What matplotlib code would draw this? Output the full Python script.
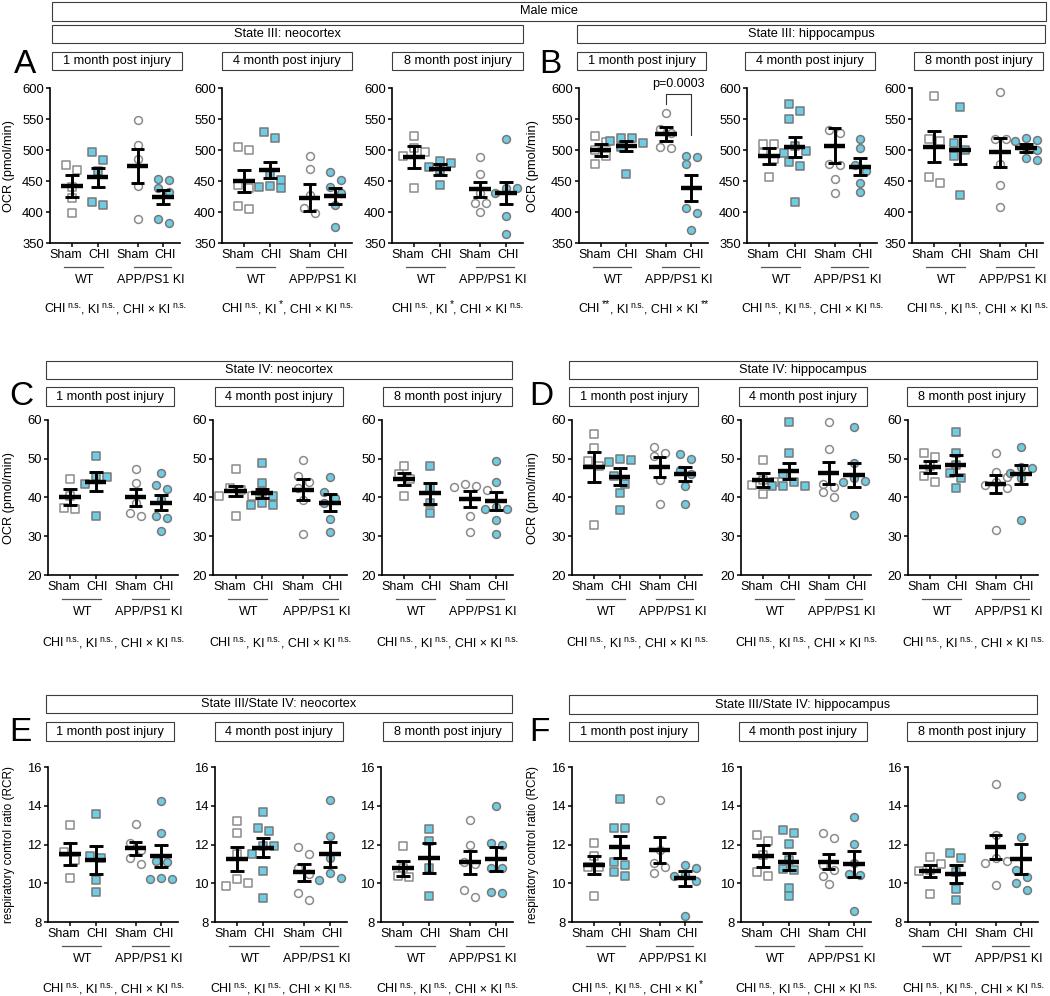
import numpy as np
import matplotlib
matplotlib.use('Agg')
import matplotlib.pyplot as plt
from matplotlib.patches import Rectangle
from matplotlib.transforms import offset_copy, ScaledTranslation

plt.rcParams['font.family'] = ['Liberation Sans', 'DejaVu Sans']

# ---- labels ----
groups = ['Sham', 'CHI', 'Sham', 'CHI']
genotypes = ['WT', 'APP/PS1 KI']
months = ['1 month post injury', '4 month post injury', '8 month post injury']
ocr_label = 'OCR (pmol/min)'
rcr_label = 'respiratory control ratio (RCR)'

# ---- data: points per group (WT Sham, WT CHI, KI Sham, KI CHI), mean, SEM ----
A1_pts = [[476, 467, 440, 422, 399], [496, 484, 466, 416, 412],
          [548, 508, 485, 442, 388], [454, 452, 438, 432, 389, 382]]
A1_mean = [442, 456, 474, 424]
A1_sem = [18, 15, 27, 11]
A2_pts = [[505, 500, 444, 438, 410, 405], [529, 520, 462, 452, 442, 440, 438],
          [491, 470, 428, 407, 398], [464, 452, 441, 430, 411, 376]]
A2_mean = [450, 468, 423, 426]
A2_sem = [18, 13, 22, 13]
A3_pts = [[523, 503, 496, 490, 438], [483, 479, 472, 468, 443],
          [489, 462, 430, 414, 414, 400], [518, 439, 438, 430, 394, 365]]
A3_mean = [489, 469, 437, 431]
A3_sem = [18, 9, 12, 18]

B1_pts = [[523, 513, 500, 490, 477], [520, 520, 514, 512, 505, 462],
          [560, 534, 528, 505, 504], [491, 488, 477, 406, 398, 371]]
B1_mean = [500, 506, 526, 438]
B1_sem = [9, 8, 11, 21]
B2_pts = [[509, 509, 495, 485, 457], [575, 563, 550, 506, 498, 495, 480, 474, 416],
          [532, 528, 477, 476, 453, 430], [518, 504, 476, 466, 447, 432]]
B2_mean = [491, 505, 507, 473]
B2_sem = [13, 16, 28, 14]
B3_pts = [[587, 517, 515, 457, 446], [570, 512, 500, 490, 428],
          [594, 518, 517, 478, 443, 408], [519, 516, 514, 505, 500, 487, 484]]
B3_mean = [505, 500, 496, 503]
B3_sem = [25, 23, 23, 6]

C1_pts = [[44.8, 40.5, 37.3, 37.0], [50.8, 45.6, 45.2, 43.5, 35.3],
          [47.3, 43.7, 38.5, 36.0, 35.1], [46.2, 43.2, 42.1, 39.6, 35.3, 34.7, 31.4]]
C1_mean = [40.1, 44.1, 40.0, 38.7]
C1_sem = [2.0, 2.5, 2.3, 1.9]
C2_pts = [[47.3, 42.5, 42.0, 40.4, 40.4, 35.3], [48.9, 43.7, 41.5, 40.5, 38.5, 38.1, 38.1],
          [49.7, 45.6, 44.1, 42.5, 39.4, 30.7], [45.4, 41.5, 39.8, 38.5, 34.4, 31.1]]
C2_mean = [41.7, 41.1, 42.0, 38.7]
C2_sem = [1.3, 1.2, 2.7, 2.1]
C3_pts = [[48.2, 46.0, 44.8, 40.3], [48.0, 42.5, 38.5, 36.0],
          [43.4, 43.0, 42.6, 42.0, 35.3, 31.1], [49.3, 43.9, 37.5, 37.1, 37.1, 34.1, 30.6]]
C3_mean = [44.8, 41.1, 39.6, 39.1]
C3_sem = [1.6, 2.7, 2.0, 2.2]

D1_pts = [[56.3, 52.7, 49.5, 48.0, 33.0], [50.0, 49.7, 49.1, 45.5, 43.5, 41.1, 36.7],
          [53.1, 51.4, 50.6, 44.5, 38.3], [51.3, 49.9, 47.0, 46.0, 43.0, 38.4]]
D1_mean = [47.9, 45.4, 47.8, 46.0]
D1_sem = [3.9, 2.2, 2.6, 1.8]
D2_pts = [[49.7, 44.5, 43.9, 43.3, 41.0], [59.4, 51.6, 46.0, 44.0, 43.0, 43.0, 42.9],
          [59.4, 52.5, 43.5, 42.7, 41.3, 40.1], [58.3, 48.8, 45.0, 44.2, 44.0, 35.6]]
D2_mean = [44.5, 46.9, 46.3, 45.7]
D2_sem = [1.7, 2.0, 2.8, 3.1]
D3_pts = [[51.6, 50.4, 48.0, 45.5, 43.9], [56.8, 51.4, 48.5, 46.3, 45.0, 42.4],
          [51.4, 46.5, 45.4, 44.0, 43.3, 42.5, 31.7], [53.0, 47.8, 47.6, 46.3, 45.0, 34.3]]
D3_mean = [47.9, 48.4, 43.5, 46.0]
D3_sem = [1.5, 2.6, 2.4, 2.5]

E1_pts = [[13.0, 11.6, 11.2, 10.25], [13.6, 11.4, 11.3, 10.15, 9.55],
          [13.05, 12.1, 11.7, 11.3, 11.0], [14.25, 12.6, 11.15, 11.1, 10.25, 10.2, 10.2]]
E1_mean = [11.5, 11.2, 11.8, 11.4]
E1_sem = [0.57, 0.7, 0.33, 0.55]
E2_pts = [[13.2, 12.6, 11.5, 10.2, 10.0, 9.85], [13.7, 12.85, 12.7, 11.9, 11.9, 11.5, 10.65, 9.25],
          [11.85, 11.5, 10.8, 10.5, 9.5, 9.15], [14.3, 12.45, 11.3, 10.55, 10.27, 10.18]]
E2_mean = [11.25, 11.83, 10.56, 11.5]
E2_sem = [0.6, 0.48, 0.43, 0.65]
E3_pts = [[11.9, 10.8, 10.35, 10.3], [12.8, 12.2, 10.8, 9.35],
          [13.25, 12.0, 11.1, 11.0, 9.65, 9.3], [14.0, 12.1, 11.95, 10.8, 10.8, 9.55, 9.5]]
E3_mean = [10.77, 11.3, 11.08, 11.25]
E3_sem = [0.38, 0.77, 0.58, 0.6]

F1_pts = [[12.1, 11.4, 10.85, 10.85, 9.35], [14.35, 12.85, 12.85, 11.1, 10.95, 10.6, 10.35],
          [14.3, 11.7, 11.05, 10.85, 10.55], [10.95, 10.8, 10.5, 10.4, 10.1, 8.32]]
F1_mean = [10.94, 11.88, 11.71, 10.26]
F1_sem = [0.45, 0.57, 0.69, 0.38]
F2_pts = [[12.5, 12.2, 11.45, 10.6, 10.35], [12.77, 12.57, 12.02, 11.2, 10.74, 10.68, 9.78, 9.32],
          [12.57, 12.35, 10.95, 10.7, 10.4, 9.95], [13.43, 12.05, 11.05, 10.47, 10.43, 8.58]]
F2_mean = [11.42, 11.12, 11.12, 11.0]
F2_sem = [0.57, 0.43, 0.4, 0.69]
F3_pts = [[11.35, 11.0, 10.7, 10.65, 9.45], [11.55, 11.3, 10.6, 9.7, 9.15],
          [15.1, 12.48, 11.3, 11.15, 11.05, 9.9], [14.48, 12.38, 10.7, 10.3, 10.03, 9.65]]
F3_mean = [10.63, 10.48, 11.85, 11.25]
F3_sem = [0.3, 0.46, 0.62, 0.76]

# two-way ANOVA results shown under each panel: (CHI, KI, CHI x KI)
A_stats = [('n.s.', 'n.s.', 'n.s.'), ('n.s.', '*', 'n.s.'), ('n.s.', '*', 'n.s.')]
B_stats = [('**', 'n.s.', '**'), ('n.s.', 'n.s.', 'n.s.'), ('n.s.', 'n.s.', 'n.s.')]
C_stats = [('n.s.', 'n.s.', 'n.s.')] * 3
D_stats = [('n.s.', 'n.s.', 'n.s.')] * 3
E_stats = [('n.s.', 'n.s.', 'n.s.')] * 3
F_stats = [('n.s.', 'n.s.', '*'), ('n.s.', 'n.s.', 'n.s.'), ('n.s.', 'n.s.', 'n.s.')]

# ---- layout (pixels) ----
W, H = 1050, 996
XPOS = [1, 2, 3.55, 4.55]
XLIM = (0.15, 5.2)
LABEL_SHIFT = [-6, 1, -5, 2]   # px shift of the Sham/CHI tick labels
SHAM_EDGE = '#8c8c8c'
CHI_FILL = '#6fcde3'
CHI_EDGE = '#787878'
BOX_EDGE = '#3c3c3c'
FS = 9.0

fig = plt.figure(figsize=(W / 100, H / 100), dpi=100)
renderer = fig.canvas.get_renderer()


def fx(x):
    return x / W


def fy(y):
    return 1 - y / H


def box(x0, x1, y0, y1, text, fs=9.2):
    fig.add_artist(Rectangle((fx(x0), fy(y1)), (x1 - x0) / W, (y1 - y0) / H,
                             transform=fig.transFigure, fill=False,
                             ec=BOX_EDGE, lw=0.8))
    fig.text(fx((x0 + x1) / 2), fy((y0 + y1) / 2), text, ha='center',
             va='center', fontsize=fs)


def stats_line(xc, y, s):
    # text with superscript significance marks, laid out piece by piece
    pieces = [('CHI', 0, 0), (s[0], 1, 2), (', KI', 0, 0), (s[1], 1, 2),
              (', CHI × KI', 0, 0), (s[2], 1, 2)]
    arts = []
    total = 0
    for txt, sup, gap in pieces:
        size = (7.5 if '*' in txt else 6.3) if sup else FS
        t = fig.text(0, 0, txt, fontsize=size, ha='left', va='baseline')
        w = t.get_window_extent(renderer=renderer).width
        arts.append((t, sup, gap, w))
        total += w + gap
    x = xc - total / 2
    for t, sup, gap, w in arts:
        x += gap
        t.set_position((fx(x), fy(y + 4 - (4.5 if sup else 0))))
        x += w


def spread(vals, ppu_y, d=8.5, step=11.0):
    """horizontal offsets (px) so points with similar values do not overlap"""
    vals = np.asarray(vals, float)
    ypx = vals * ppu_y
    order = list(np.argsort(-vals))
    xs = np.zeros(len(vals))
    done = []
    for i in order:
        for k in [0, 1, -1, 2, -2, 3, -3, 4, -4]:
            x = k * step
            if all(np.hypot(x - xs[j], ypx[i] - ypx[j]) >= d for j in done):
                break
        xs[i] = x
        done.append(i)
    start = 0
    for n in range(1, len(order) + 1):
        if n == len(order) or ypx[order[n - 1]] - ypx[order[n]] >= d:
            grp = order[start:n]
            xs[grp] -= (xs[grp].max() + xs[grp].min()) / 2
            start = n
    return xs


def draw_panel(rect, pts, means, sems, ylim, yticks, stats, sub_box, sub_y,
               stats_y, month):
    x0, x1, y0, y1 = rect
    ax = fig.add_axes([fx(x0), fy(y1), (x1 - x0) / W, (y1 - y0) / H])
    ax.set_xlim(*XLIM)
    ax.set_ylim(*ylim)
    ppu_x = (x1 - x0) / (XLIM[1] - XLIM[0])
    ppu_y = (y1 - y0) / (ylim[1] - ylim[0])
    for i, (vals, xc) in enumerate(zip(pts, XPOS)):
        offs = spread(vals, ppu_y) / ppu_x
        chi = i % 2 == 1
        ax.scatter(xc + offs, vals, marker='s' if i < 2 else 'o', s=32,
                   facecolor=CHI_FILL if chi else 'white',
                   edgecolor=CHI_EDGE if chi else SHAM_EDGE,
                   linewidths=1.1, zorder=2, clip_on=False)
        m, e = means[i], sems[i]
        ax.hlines(m, xc - 0.42, xc + 0.42, color='k', lw=3.2, zorder=4)
        ax.vlines(xc, m - e, m + e, color='k', lw=2.1, zorder=4)
        ax.hlines([m - e, m + e], xc - 0.27, xc + 0.27, color='k', lw=2.1, zorder=4)
    for side in ['top', 'right']:
        ax.spines[side].set_visible(False)
    for side in ['left', 'bottom']:
        ax.spines[side].set_linewidth(1.2)
    ax.set_yticks(yticks)
    ax.set_xticks(XPOS)
    ax.set_xticklabels(groups)
    ax.tick_params(axis='both', direction='out', length=3, width=1.1, pad=1.5)
    ax.tick_params(axis='y', labelsize=9.4)
    ax.tick_params(axis='x', labelsize=FS)
    for lab, dx in zip(ax.get_xticklabels(), LABEL_SHIFT):
        lab.set_transform(lab.get_transform() +
                          ScaledTranslation(dx / 100, 0, fig.dpi_scale_trans))
    tr_line = offset_copy(ax.get_xaxis_transform(), fig=fig, y=-24, units='dots')
    tr_lab = offset_copy(ax.get_xaxis_transform(), fig=fig, y=-37, units='dots')
    for g, name in enumerate(genotypes):
        a, b = XPOS[2 * g], XPOS[2 * g + 1]
        pad = (-0.3, 0.2) if g == 0 else (-0.15, 0.3)
        ax.plot([a + pad[0], b + pad[1]], [0, 0], transform=tr_line,
                color='#555555', lw=0.9, clip_on=False)
        ax.text((a + b) / 2, 0, name, transform=tr_lab, ha='center', va='center',
                fontsize=FS)
    box(sub_box[0], sub_box[1], sub_y[0], sub_y[1], months[month])
    stats_line((x0 + x1) / 2, stats_y, stats)
    return ax


rows = [
    dict(letter='A', lx=14, ly=73, ay=(88, 243),
         cols=[(50, 180), (222, 352), (392, 523)],
         subs=[(52, 182), (222, 352), (392, 523)], sub_y=(52, 70),
         header=(52, 523, 25, 43, 'State III: neocortex'), ylab_x=9, stats_y=308,
         data=[(A1_pts, A1_mean, A1_sem), (A2_pts, A2_mean, A2_sem), (A3_pts, A3_mean, A3_sem)],
         stats=A_stats, ylim=(350, 600), yticks=range(350, 601, 50),
         ylabel=ocr_label, ylab_fs=9.2),
    dict(letter='B', lx=539, ly=73, ay=(88, 243),
         cols=[(579, 708), (747, 877), (912, 1043)],
         subs=[(577, 706), (745, 875), (914, 1043)], sub_y=(52, 70),
         header=(577, 1045, 25, 43, 'State III: hippocampus'), ylab_x=533, stats_y=308,
         data=[(B1_pts, B1_mean, B1_sem), (B2_pts, B2_mean, B2_sem), (B3_pts, B3_mean, B3_sem)],
         stats=B_stats, ylim=(350, 600), yticks=range(350, 601, 50),
         ylabel=ocr_label, ylab_fs=9.2),
    dict(letter='C', lx=9, ly=405, ay=(420, 575),
         cols=[(48, 178), (213, 347), (382, 513)],
         subs=[(46, 174), (215, 343), (383, 512)], sub_y=(387, 406),
         header=(46, 512, 361, 379, 'State IV: neocortex'), ylab_x=9, stats_y=642,
         data=[(C1_pts, C1_mean, C1_sem), (C2_pts, C2_mean, C2_sem), (C3_pts, C3_mean, C3_sem)],
         stats=C_stats, ylim=(20, 60), yticks=range(20, 61, 10),
         ylabel=ocr_label, ylab_fs=9.2),
    dict(letter='D', lx=529, ly=405, ay=(420, 575),
         cols=[(572, 702), (741, 871), (908, 1038)],
         subs=[(569, 698), (739, 867), (907, 1037)], sub_y=(387, 406),
         header=(569, 1037, 361, 379, 'State IV: hippocampus'), ylab_x=533, stats_y=642,
         data=[(D1_pts, D1_mean, D1_sem), (D2_pts, D2_mean, D2_sem), (D3_pts, D3_mean, D3_sem)],
         stats=D_stats, ylim=(20, 60), yticks=range(20, 61, 10),
         ylabel=ocr_label, ylab_fs=9.2),
    dict(letter='E', lx=9, ly=741, ay=(767, 922),
         cols=[(48, 178), (215, 347), (381, 513)],
         subs=[(46, 174), (215, 343), (383, 512)], sub_y=(722, 741),
         header=(46, 512, 695, 713, 'State III/State IV: neocortex'), ylab_x=9, stats_y=988,
         data=[(E1_pts, E1_mean, E1_sem), (E2_pts, E2_mean, E2_sem), (E3_pts, E3_mean, E3_sem)],
         stats=E_stats, ylim=(8, 16), yticks=range(8, 17, 2),
         ylabel=rcr_label, ylab_fs=8.5),
    dict(letter='F', lx=529, ly=741, ay=(767, 922),
         cols=[(572, 702), (741, 871), (908, 1038)],
         subs=[(569, 698), (739, 867), (907, 1037)], sub_y=(722, 741),
         header=(569, 1037, 695, 714, 'State III/State IV: hippocampus'), ylab_x=533, stats_y=988,
         data=[(F1_pts, F1_mean, F1_sem), (F2_pts, F2_mean, F2_sem), (F3_pts, F3_mean, F3_sem)],
         stats=F_stats, ylim=(8, 16), yticks=range(8, 17, 2),
         ylabel=rcr_label, ylab_fs=8.5),
]

box(52, 1046, 2, 21, 'Male mice')

axes = {}
for r in rows:
    hx0, hx1, hy0, hy1, htxt = r['header']
    box(hx0, hx1, hy0, hy1, htxt)
    fig.text(fx(r['lx']), fy(r['ly']), r['letter'], fontsize=24, ha='left',
             va='baseline')
    for c in range(3):
        pts, mean, sem = r['data'][c]
        x0, x1 = r['cols'][c]
        ax = draw_panel((x0, x1, r['ay'][0], r['ay'][1]), pts, mean, sem,
                        r['ylim'], list(r['yticks']), r['stats'][c],
                        r['subs'][c], r['sub_y'], r['stats_y'], c)
        axes[(r['letter'], c)] = ax
    fig.text(fx(r['ylab_x']), fy(sum(r['ay']) / 2), r['ylabel'], rotation=90,
             ha='center', va='center', fontsize=r['ylab_fs'])

# significance bracket, State III hippocampus 1 month
axb = axes[('B', 0)]
axb.plot([XPOS[2], XPOS[2], XPOS[3], XPOS[3]], [574, 591, 591, 525],
         color='#333333', lw=0.8, clip_on=False)
axb.text((XPOS[2] + XPOS[3]) / 2, 607, 'p=0.0003', ha='center', va='center',
         fontsize=FS, clip_on=False)

fig.savefig('out.png', dpi=100)
